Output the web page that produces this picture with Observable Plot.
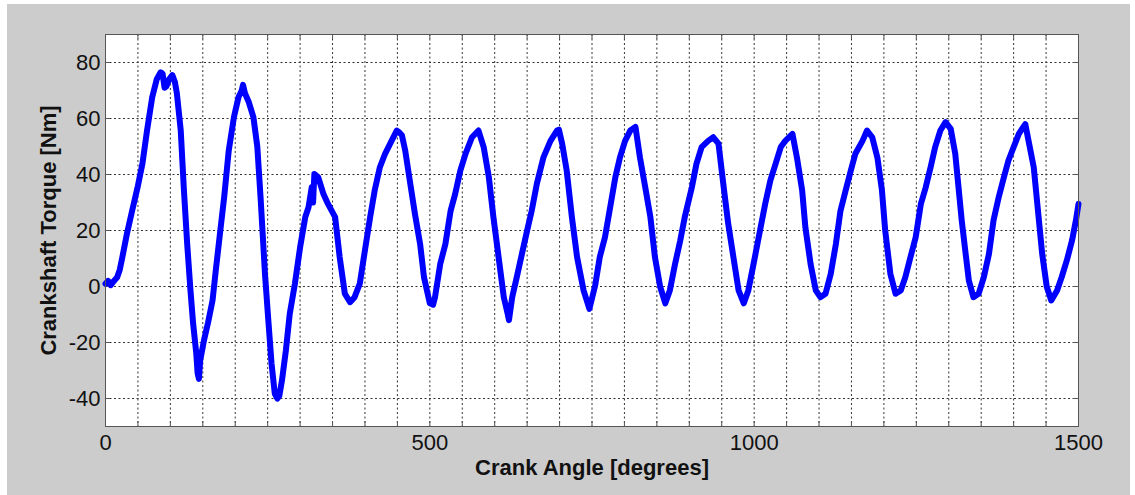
<!DOCTYPE html>
<html>
<head>
<meta charset="utf-8">
<script src="https://cdn.jsdelivr.net/npm/d3@7"></script>
<script src="https://cdn.jsdelivr.net/npm/@observablehq/plot@0.6"></script>
<style>
  html, body { margin: 0; padding: 0; background: #ffffff; }
  #chart { position: absolute; left: 7px; top: 4px; }
</style>
</head>
<body>
<div id="chart"></div>
<script>
// Crankshaft torque trace over crank angle
const angle = [
  0, 4, 8, 13, 18, 22, 26, 33, 41, 50, 57, 64, 72, 79, 85, 88, 91, 94, 98, 103,
  107, 110, 116, 121, 126, 131, 135, 140, 142, 144, 146, 152, 158, 165, 170, 177, 183, 190, 198, 205,
  210, 212, 215, 221, 228, 234, 239, 246, 251, 256, 261, 265, 268, 272, 278, 284, 292, 300, 308, 313,
  318, 320, 322, 328, 336, 343, 354, 361, 369, 377, 384, 392, 400, 408, 415, 423, 431, 441, 449, 453,
  457, 462, 469, 477, 485, 491, 500, 505, 508, 516, 524, 532, 539, 547, 555, 565, 575, 583, 591, 598,
  606, 614, 620, 622, 627, 634, 642, 650, 657, 665, 675, 686, 696, 699, 704, 711, 719, 727, 737, 746,
  755, 762, 770, 778, 786, 793, 801, 809, 817, 824, 832, 840, 847, 855, 863, 870, 878, 886, 893, 904,
  911, 919, 929, 937, 945, 953, 960, 968, 976, 984, 991, 999, 1007, 1017, 1025, 1033, 1041, 1048, 1059, 1066,
  1074, 1079, 1087, 1095, 1102, 1110, 1118, 1126, 1133, 1141, 1149, 1156, 1167, 1174, 1182, 1190, 1197, 1202, 1210, 1218,
  1226, 1233, 1241, 1249, 1257, 1264, 1272, 1279, 1287, 1295, 1303, 1310, 1315, 1320, 1326, 1331, 1338, 1346, 1354, 1362,
  1369, 1377, 1385, 1392, 1400, 1408, 1415, 1418, 1423, 1431, 1437, 1444, 1451, 1458, 1467, 1474, 1482, 1490, 1496, 1500
];
const torque = [
  1, 2, 0.5, 2, 3.3, 6, 10.5, 18.8, 27, 36, 44, 55.7, 67.6, 74, 76.5, 76, 71, 71.5, 74, 75.5,
  73, 69, 55.7, 34, 15, -1.4, -13, -24, -31, -33, -26.4, -19, -13, -5, 5.7, 20, 32, 48.6, 60.5, 67.6,
  70, 72, 69, 65.8, 60.5, 50, 32, 4, -12, -27.6, -38.3, -40, -39, -33.6, -23, -9.8, 1, 14, 24.8, 28.3,
  35.5, 30, 40.2, 39, 33, 29.5, 24.8, 10.5, -2.6, -5.6, -3.8, 1, 13, 24.8, 34.3, 42.6, 47.4, 52, 55.7, 55,
  54, 48.6, 38, 26, 15.2, 3.3, -6, -6.5, -3.8, 8, 15.2, 27, 33, 41.4, 47.4, 53.3, 55.7, 49.8, 39, 24.8,
  10.5, -3.8, -9.8, -12, -3.8, 3.3, 11.7, 20, 27, 36.7, 46, 52, 55.7, 56, 51, 41.4, 24.8, 10.5, -1.4, -8,
  0.5, 10.5, 17.6, 28.3, 39, 46, 52, 55.7, 57, 46, 35.5, 24.8, 10.5, 0, -6, -1.4, 8, 16.4, 24.8, 35.5,
  43.8, 49.8, 52, 53.3, 51, 35.5, 22.4, 10.5, -1.4, -6, -1.4, 8, 17.6, 29.5, 37.9, 43.8, 49.8, 52, 54.5, 46,
  34.3, 21, 8, -1.4, -3.8, -2.6, 4.5, 15.2, 27, 34.3, 41.4, 47.4, 52, 55.7, 53.3, 46, 34.3, 20, 4.5, -2.6,
  -1.4, 3.3, 10.5, 17.6, 29.5, 35, 42.6, 49.8, 55.7, 58.7, 56.3, 47.4, 35.5, 23.6, 11.7, 2.1, -3.8, -2.6, 3.3, 11.7,
  23.6, 31.9, 39, 45, 49.8, 54.5, 57, 58, 52, 42.6, 28.3, 11.7, 0, -5, -1.4, 3.3, 9.3, 16.4, 23.6, 29.5
];

// Axis ticks, grid positions and tick labels
const xGrid = d3.range(50, 1500, 50);
const xTicks = d3.range(0, 1501, 50);
const xLabels = [0, 500, 1000, 1500];
const yTicks = [-40, -20, 0, 20, 40, 60, 80];
const xTitle = "Crank Angle [degrees]";
const yTitle = "Crankshaft Torque [Nm]";

const data = angle.map((a, i) => ({angle: a, torque: torque[i]}));

const W = 1123, H = 491;
const mL = 98, mT = 30, mR = 52, mB = 69;
const innerW = W - mL - mR, innerH = H - mT - mB;
const tick = 5;
const axisColor = "#555";
const gridColor = "#333";

const chart = Plot.plot({
  width: W,
  height: H,
  marginLeft: mL,
  marginTop: mT,
  marginRight: mR,
  marginBottom: mB,
  style: {
    background: "#cccccc",
    fontFamily: "'Liberation Sans', Arial, sans-serif",
    color: "#111"
  },
  x: {domain: [0, 1500]},
  y: {domain: [-50, 90]},
  marks: [
    Plot.frame({fill: "white"}),
    // dotted grid
    Plot.ruleX(xGrid, {stroke: gridColor, strokeDasharray: "2,2.5", strokeWidth: 1}),
    Plot.ruleY(yTicks, {stroke: gridColor, strokeDasharray: "2,2.5", strokeWidth: 1}),
    // inward tick marks on all four sides
    Plot.ruleX(xTicks, {stroke: axisColor, insetTop: innerH - tick}),
    Plot.ruleX(xTicks, {stroke: axisColor, insetBottom: innerH - tick}),
    Plot.ruleY(yTicks, {stroke: axisColor, insetRight: innerW - tick}),
    Plot.ruleY(yTicks, {stroke: axisColor, insetLeft: innerW - tick}),
    Plot.line(data, {
      x: "angle", y: "torque",
      stroke: "#0000ff", strokeWidth: 6,
      strokeLinejoin: "round", strokeLinecap: "round"
    }),
    Plot.frame({stroke: axisColor, strokeWidth: 1}),
    Plot.axisX(xLabels, {tickSize: 0, tickPadding: 8, fontSize: 22, label: null, tickFormat: d => String(d)}),
    Plot.axisY(yTicks, {tickSize: 0, tickPadding: 5, fontSize: 22, label: null, tickFormat: d => String(d)}),
    Plot.text([xTitle], {
      frameAnchor: "bottom", dy: 41, lineAnchor: "middle", textAnchor: "middle",
      fontSize: 22, fontWeight: "bold", fill: "#111"
    }),
    Plot.text([yTitle], {
      frameAnchor: "left", dx: -57, rotate: -90, lineAnchor: "middle", textAnchor: "middle",
      fontSize: 22, fontWeight: "bold", fill: "#111"
    })
  ]
});

document.getElementById("chart").append(chart);
</script>
</body>
</html>
